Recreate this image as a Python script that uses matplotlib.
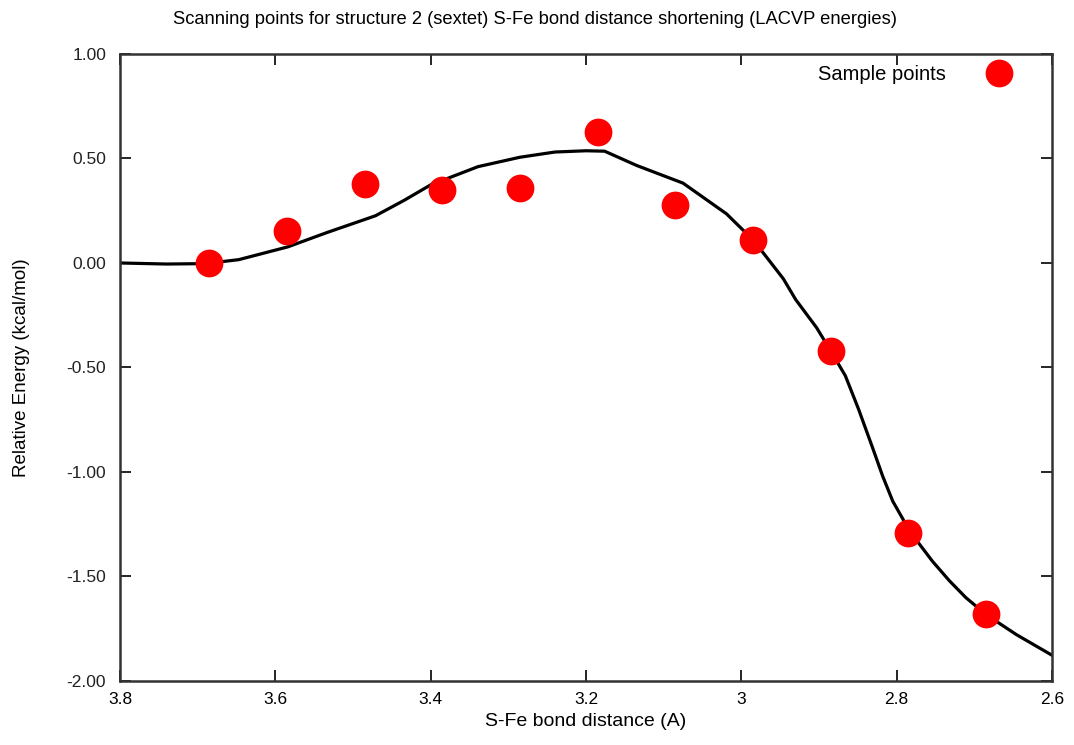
import numpy as np
import matplotlib
matplotlib.use("Agg")
import matplotlib.pyplot as plt

plt.rcParams['font.family'] = ['Liberation Sans', 'DejaVu Sans']

# sample points
dist = [3.685, 3.585, 3.485, 3.385, 3.285, 3.185, 3.085, 2.985, 2.885, 2.785, 2.685]
energy = [0.00, 0.152, 0.378, 0.350, 0.358, 0.625, 0.279, 0.110, -0.421, -1.290, -1.681]

# smooth curve
curve_x = [3.800, 3.740, 3.690, 3.647, 3.584, 3.534, 3.471, 3.434, 3.398, 3.385,
           3.339, 3.285, 3.240, 3.200, 3.176, 3.135, 3.075, 3.019, 2.984, 2.946,
           2.930, 2.903, 2.885, 2.866, 2.849, 2.831, 2.818, 2.805, 2.792, 2.785,
           2.754, 2.732, 2.711, 2.685, 2.646, 2.600]
curve_y = [0.000, -0.005, -0.003, 0.016, 0.077, 0.145, 0.226, 0.300, 0.378, 0.395,
           0.461, 0.506, 0.531, 0.537, 0.535, 0.467, 0.382, 0.235, 0.107, -0.075,
           -0.175, -0.310, -0.420, -0.540, -0.700, -0.884, -1.020, -1.140, -1.225, -1.275,
           -1.427, -1.521, -1.601, -1.682, -1.778, -1.877]

xticks = [3.8, 3.6, 3.4, 3.2, 3.0, 2.8, 2.6]
xtick_labels = ["3.8", "3.6", "3.4", "3.2", "3", "2.8", "2.6"]
yticks = [1.0, 0.5, 0.0, -0.5, -1.0, -1.5, -2.0]

fig = plt.figure(figsize=(10.74, 7.45), dpi=100)
ax = fig.add_axes([0.1117, 0.086, 0.8678, 0.8415])

ax.plot(curve_x, curve_y, color='black', lw=2.3, zorder=2, solid_joinstyle='round')
ax.plot(dist, energy, 'o', color='#ff0000', markersize=20, markeredgewidth=0,
        label='Sample points', zorder=3)

ax.set_xlim(3.8, 2.6)
ax.set_ylim(-2.0, 1.0)
ax.set_xticks(xticks)
ax.set_xticklabels(xtick_labels)
ax.set_yticks(yticks)
ax.set_yticklabels(["%.2f" % v for v in yticks])

ax.tick_params(direction='in', top=True, right=True, length=8, width=1.2,
               labelsize=12.5, colors='black')
ax.tick_params(axis='x', pad=8)
ax.tick_params(axis='y', pad=10, labelcolor='#222222')
for s in ax.spines.values():
    s.set_linewidth(1.8)
    s.set_color('#333333')

# title is centred on the whole figure in the original
fig.suptitle("Scanning points for structure 2 (sextet) S-Fe bond distance shortening (LACVP energies)",
             fontsize=13.2, x=0.498, y=0.985)
ax.set_xlabel("S-Fe bond distance (A)", fontsize=14, labelpad=4)
ax.set_ylabel("Relative Energy (kcal/mol)", fontsize=13.5, labelpad=26)

ax.legend(loc='upper right', bbox_to_anchor=(0.973, 0.996), frameon=False,
          markerfirst=False, fontsize=14.5, handletextpad=1.6, borderaxespad=0,
          numpoints=1)

fig.savefig("out.png", dpi=100)
